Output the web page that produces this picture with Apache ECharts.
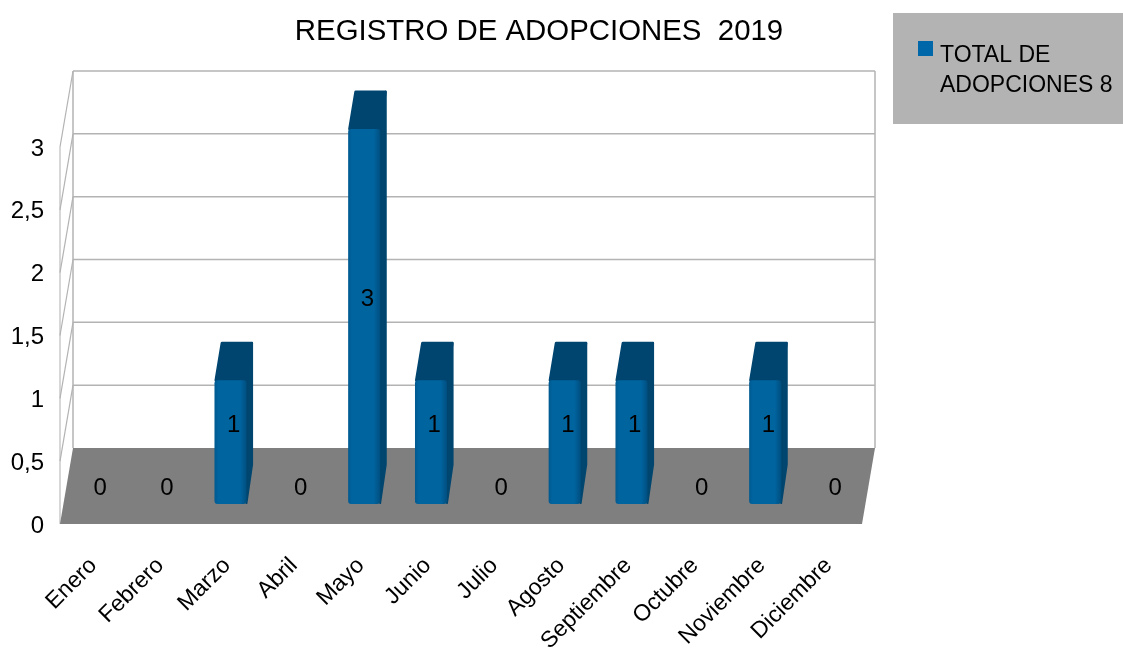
<!DOCTYPE html>
<html><head><meta charset="utf-8">
<style>html,body{margin:0;padding:0;background:#fff}#c{width:1123px;height:656px}</style>
<script src="https://cdn.jsdelivr.net/npm/echarts@6/dist/echarts.min.js"></script>
</head><body><div id="c"></div>
<script>
var categories = ['Enero','Febrero','Marzo','Abril','Mayo','Junio','Julio','Agosto','Septiembre','Octubre','Noviembre','Diciembre'];
var adopciones = [0,0,1,0,3,1,0,1,1,0,1,0];
var yTicks = [0,0.5,1,1.5,2,2.5,3];
var seriesName = 'TOTAL DE\nADOPCIONES 8';
var titleText = 'REGISTRO DE ADOPCIONES  2019';

var DX = 13, DY = -76, FONT = '"Liberation Sans"';
var chart = echarts.init(document.getElementById('c'));

function wallItem(params, api) {
  var i = params.dataIndex, v = api.value(0);
  var l = api.coord([0, v]), r = api.coord([11, v]);
  var band = api.size([1, 0])[0];
  var x0 = l[0] - band / 2, x1 = r[0] + band / 2, y = l[1];
  var grey = '#b3b3b3';
  var ch = [];
  var zero = api.coord([0, 0])[1], top = api.coord([0, 3])[1];
  if (i === 0) {
    ch.push({type:'polygon', shape:{points:[[x0,top],[x0+DX,top+DY],[x0+DX,zero+DY],[x0,zero]]}, style:{fill:'#fff', stroke:null}});
    ch.push({type:'line', shape:{x1:x0,y1:top,x2:x0,y2:zero}, style:{stroke:'#bdbdbd',lineWidth:1.2}});
    ch.push({type:'polygon', shape:{points:[[x0,zero],[x1,zero],[x1+DX,zero+DY],[x0+DX,zero+DY]]}, style:{fill:'#7f7f7f'}});
    ch.push({type:'line', shape:{x1:x0+DX,y1:top+DY,x2:x0+DX,y2:zero+DY}, style:{stroke:grey,lineWidth:1.5}});
    ch.push({type:'line', shape:{x1:x1+DX,y1:top+DY,x2:x1+DX,y2:zero+DY}, style:{stroke:grey,lineWidth:1.5}});
  } else {
    ch.push({type:'line', shape:{x1:x0+DX,y1:y+DY,x2:x1+DX,y2:y+DY}, style:{stroke:grey,lineWidth:1.5}});
    ch.push({type:'line', shape:{x1:x0,y1:y,x2:x0+DX,y2:y+DY}, style:{stroke:'#b3b3b3',lineWidth:1.2}});
  }
  return {type:'group', children:ch};
}

function barItem(params, api) {
  var c = api.value(0), v = api.value(1);
  var base = api.coord([c, 0]), head = api.coord([c, v]);
  var fdx = 3.4, fdy = -20, w = 32, bx = 6.6, by = -38.5;
  var x = base[0] + fdx - w / 2, yb = base[1] + fdy, yt = head[1] + fdy + 2;
  var ch = [];
  if (v > 0) {
    ch.push({type:'polygon', shape:{points:[[x+w,yt],[x+w+bx-1,yt+by+1],[x+w+bx-1,yb+by-1],[x+w,yb-1]]},
      style:{fill:'#00466f',stroke:'#00466f',lineWidth:2,lineJoin:'round'}});
    ch.push({type:'polygon', shape:{points:[[x+1.5,yt],[x+bx+1,yt+by+1.5],[x+w+bx-1.5,yt+by+1.5],[x+w,yt]]},
      style:{fill:'#004570',stroke:'#004570',lineWidth:3,lineJoin:'round'}});
    ch.push({type:'rect', shape:{x:x,y:yt,width:w,height:yb-yt,r:3},
      style:{fill:{type:'linear',x:0,y:0,x2:1,y2:0,colorStops:[{offset:0,color:'#00598f'},{offset:0.12,color:'#00649f'},{offset:0.8,color:'#00649f'},{offset:1,color:'#004f80'}]}}});
  }
  var mid = api.coord([c, v / 2]);
  ch.push({type:'text', x:mid[0]+6.7, y:mid[1]-36, style:{text:String(v), fill:'#000', font:'24px '+FONT, align:'center', verticalAlign:'middle'}, z2:10});
  return {type:'group', children:ch};
}

chart.setOption({
  animation:false,
  backgroundColor:'#fff',
  title:{text:titleText,left:534,top:12,textAlign:'center',textStyle:{fontFamily:FONT,fontSize:29.4,fontWeight:'normal',color:'#000'}},
  legend:{
    left:893,top:13,padding:[27,130,22,25],orient:'vertical',
    backgroundColor:'#b3b3b3',
    data:[{name:seriesName,icon:'path://M0 0h15v15h-15z M15 60L15 60z'}],
    itemWidth:15,itemHeight:60,itemGap:0,
    textStyle:{fontFamily:FONT,fontSize:23,color:'#000',lineHeight:30,padding:[2,0,0,2]},
    itemStyle:{color:'#0068a8'}
  },
  grid:{left:60,top:147,width:802,height:377,containLabel:false},
  xAxis:{type:'category',data:categories,
    axisLine:{show:false},axisTick:{show:false},splitLine:{show:false},
    axisLabel:{interval:0,rotate:45,margin:38,color:'#000',fontFamily:FONT,fontSize:23,hideOverlap:false}},
  yAxis:{type:'value',min:0,max:3,interval:0.5,
    axisLine:{show:false},axisTick:{show:false},splitLine:{show:false},
    axisLabel:{margin:16,color:'#000',fontFamily:FONT,fontSize:24,
      rich:{a:{fontFamily:FONT,fontSize:24,color:'#000',padding:[4,0,0,0]}},
      formatter:function(v){return '{a|'+String(v).replace('.',',')+'}';}}},
  series:[
    {type:'custom',name:'pared',coordinateSystem:'cartesian2d',renderItem:wallItem,silent:true,z:1,clip:false,
      data:yTicks.map(function(t){return [t];}),encode:{y:0}},
    {type:'custom',name:seriesName,coordinateSystem:'cartesian2d',renderItem:barItem,z:2,clip:false,
      itemStyle:{color:'#0068a8'},
      data:adopciones.map(function(v,i){return [i,v];}),encode:{x:0,y:1}}
  ]
});
</script></body></html>
